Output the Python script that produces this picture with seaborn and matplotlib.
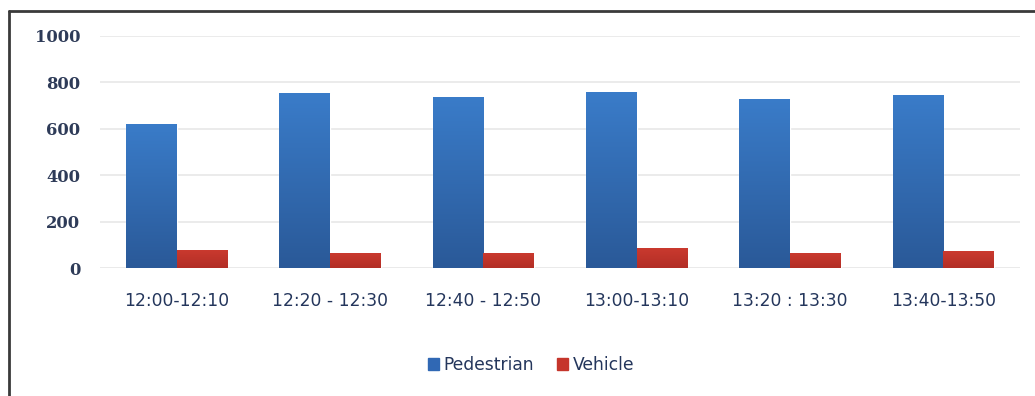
import numpy as np
import pandas as pd
import matplotlib
matplotlib.use("Agg")
import matplotlib.pyplot as plt
import seaborn as sns
from matplotlib.patches import Rectangle
from matplotlib.colors import LinearSegmentedColormap

categories = ["12:00-12:10", "12:20 - 12:30", "12:40 - 12:50", "13:00-13:10", "13:20 : 13:30", "13:40-13:50"]
pedestrian = [621, 753, 738, 757, 730, 746]
vehicle = [78, 66, 66, 89, 66, 73]
series_names = ["Pedestrian", "Vehicle"]
yticks = [0, 200, 400, 600, 800, 1000]

df = pd.DataFrame({
    "slot": categories * 2,
    "count": pedestrian + vehicle,
    "type": [series_names[0]] * len(categories) + [series_names[1]] * len(categories),
})

sns.set_theme(style="white")
plt.rcParams["font.family"] = ["DejaVu Sans"]

W, H = 1035, 396
fig = plt.figure(figsize=(W / 100, H / 100), dpi=100)
ax = fig.add_axes([100 / W, 1 - 268.3 / H, 920 / W, (268.3 - 36) / H])

blue = "#3068B4"
red = "#C5352B"
sns.barplot(data=df, x="slot", y="count", hue="type", palette=[blue, red],
            width=0.66, ax=ax, legend=False, saturation=1)

ax.set_ylim(0, 1000)
ax.set_yticks(yticks)
ax.set_xlim(-0.5, len(categories) - 0.5)
ax.set_xlabel("")
ax.set_ylabel("")
for s in ax.spines.values():
    s.set_visible(False)
ax.grid(axis="y", color="#EBEBEB", linewidth=1.4)
ax.set_axisbelow(True)
ax.axhline(0, color="#E0E0E0", linewidth=1.4, zorder=0.5)
ax.tick_params(axis="both", length=0)
ax.tick_params(axis="y", pad=14)
ax.tick_params(axis="x", pad=17)
for t in ax.get_yticklabels():
    t.set_fontfamily("DejaVu Serif")
    t.set_fontweight("bold")
    t.set_fontsize(11.8)
    t.set_color("#2E3B58")
for t in ax.get_xticklabels():
    t.set_fontsize(12.3)
    t.set_color("#24365C")

# gradient fills
cm_blue = LinearSegmentedColormap.from_list("b", ["#2A5998", "#3A7CC9"])
cm_red = LinearSegmentedColormap.from_list("r", ["#B22E26", "#CB3A2F"])
grad = np.linspace(0, 1, 256).reshape(-1, 1)
n = len(categories)
for i, p in enumerate(ax.patches[:2 * n]):
    x0, y0 = p.get_x(), p.get_y()
    w, h = p.get_width(), p.get_height()
    cmap = cm_blue if i < n else cm_red
    im = ax.imshow(grad, cmap=cmap, aspect="auto", origin="lower",
                   extent=[x0, x0 + w, y0, y0 + h], zorder=p.get_zorder() + 0.1)
    im.set_clip_path(p)
ax.set_xlim(-0.5, len(categories) - 0.5)
ax.set_ylim(0, 1000)

handles = [Rectangle((0, 0), 1, 1, color="#3068B4"), Rectangle((0, 0), 1, 1, color=red)]
leg = fig.legend(handles, series_names, loc="center", bbox_to_anchor=(531 / W, 1 - 365 / H),
                 ncol=2, frameon=False, handlelength=0.65, handleheight=0.65,
                 handletextpad=0.3, columnspacing=1.3, fontsize=12.3)
for t in leg.get_texts():
    t.set_color("#24365C")

# outer frame (cropped screenshot border)
fig.add_artist(plt.Line2D([8.5 / W, 8.5 / W], [0, 1 - 11 / H], transform=fig.transFigure,
                          color="#3A3A3A", linewidth=2))
fig.add_artist(plt.Line2D([8.5 / W, 1], [1 - 11 / H, 1 - 11 / H], transform=fig.transFigure,
                          color="#3A3A3A", linewidth=2))

fig.savefig("out.png", dpi=100)
